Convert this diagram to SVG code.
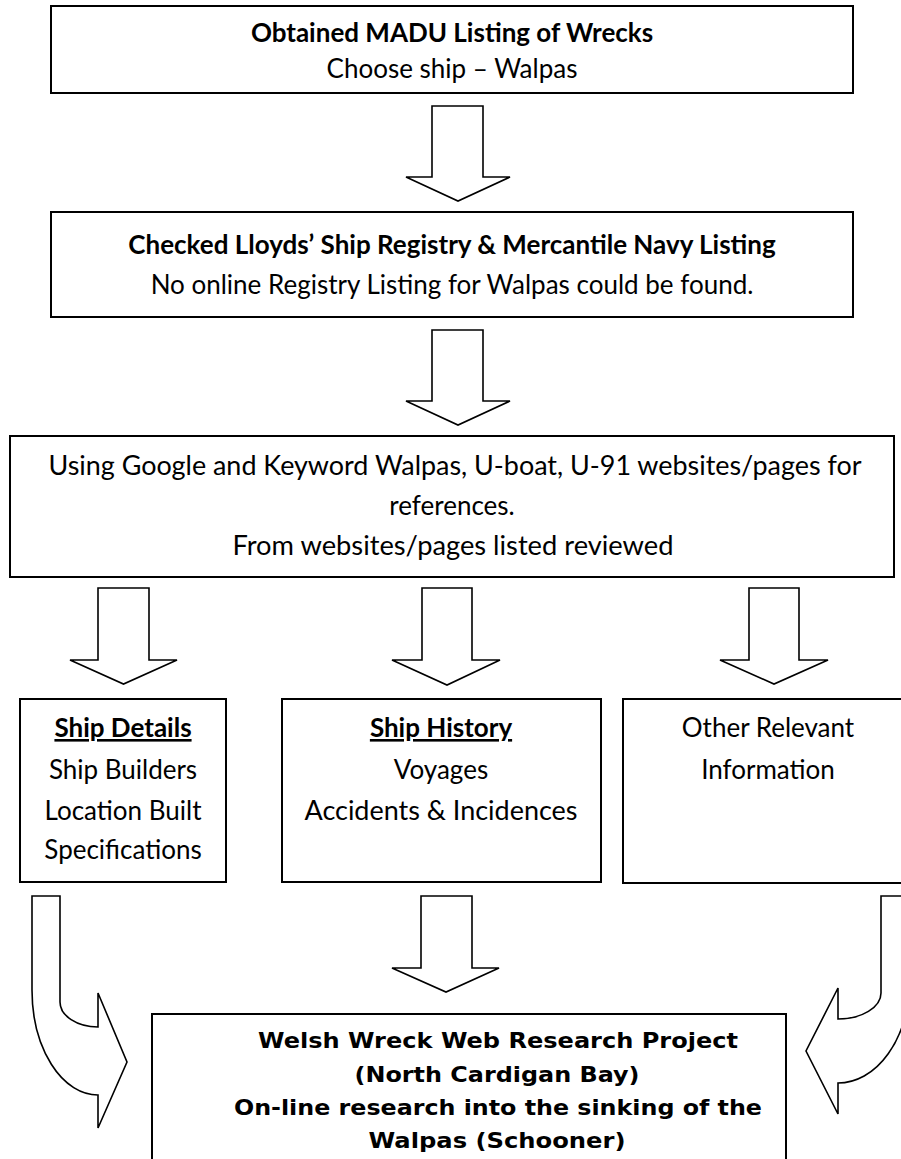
<svg xmlns="http://www.w3.org/2000/svg" width="901" height="1159" viewBox="0 0 901 1159">
<style>
.box{fill:#fff;stroke:#000;stroke-width:2}
.arr{fill:#fff;stroke:#000;stroke-width:1.6;stroke-linejoin:miter}
.t{font-family:Lato,"Liberation Sans",sans-serif;font-size:26px;fill:#000;text-anchor:middle}
.b{font-weight:bold}
.u{text-decoration:underline}
.v{font-family:"DejaVu Sans",Verdana,sans-serif;font-size:21px;font-weight:bold;fill:#000;text-anchor:middle}
</style>
<rect width="901" height="1159" fill="#fff"/>
<g id="connectors">
<polygon class="arr" points="432,106 483,106 483,177 510,177 458,201 406,177 432,177"/>
<polygon class="arr" points="432,330 483,330 483,401 510,401 458,425 406,401 432,401"/>
<polygon class="arr" points="98,588 149,588 149,660 177,660 123.5,684 70,660 98,660"/>
<polygon class="arr" points="422,588 472,588 472,660 500,660 447,685 392,660 422,660"/>
<polygon class="arr" points="749,588 799,588 799,660 828,660 774,684 720,660 749,660"/>
<polygon class="arr" points="421,896 472,896 472,968 499,968 446,992 392,968 421,968"/>
<path class="arr" d="M32,896 L60,896 L60,1002 A38,25 0 0 0 98,1027 L98,993 L127,1062 L98,1128 L98,1095 A66,105 0 0 1 32,990 Z"/>
<path class="arr" d="M881,896 L909,896 L909,983 A71,100 0 0 1 838,1083 L838,1114 L806,1051 L838,988 L838,1019 A43,26 0 0 0 881,993 Z"/>
</g>
<g id="n1">
<rect class="box" x="51" y="6" width="802" height="87"/>
<text class="t b" x="452" y="42">Obtained MADU Listing of Wrecks</text>
<text class="t" x="452" y="78">Choose ship – Walpas</text>
</g>
<g id="n2">
<rect class="box" x="51" y="212" width="802" height="105"/>
<text class="t b" x="452" y="254">Checked Lloyds’ Ship Registry &amp; Mercantile Navy Listing</text>
<text class="t" x="452" y="294">No online Registry Listing for Walpas could be found.</text>
</g>
<g id="n3">
<rect class="box" x="10" y="436" width="884" height="141"/>
<text class="t" x="455" y="475" textLength="813" lengthAdjust="spacingAndGlyphs">Using Google and Keyword Walpas, U-boat, U-91 websites/pages for</text>
<text class="t" x="452" y="515">references.</text>
<text class="t" x="453" y="555" textLength="441" lengthAdjust="spacingAndGlyphs">From websites/pages listed reviewed</text>
</g>
<g id="n4">
<rect class="box" x="20" y="699" width="206" height="183"/>
<text class="t b u" x="123" y="737">Ship Details</text>
<text class="t" x="123" y="779">Ship Builders</text>
<text class="t" x="123" y="820">Location Built</text>
<text class="t" x="123" y="859">Specifications</text>
</g>
<g id="n5">
<rect class="box" x="282" y="699" width="319" height="183"/>
<text class="t b u" x="441" y="737">Ship History</text>
<text class="t" x="441" y="779">Voyages</text>
<text class="t" x="441" y="820" textLength="273" lengthAdjust="spacingAndGlyphs">Accidents &amp; Incidences</text>
</g>
<g id="n6">
<rect class="box" x="623" y="699" width="290" height="184"/>
<text class="t" x="768" y="737">Other Relevant</text>
<text class="t" x="768" y="779">Information</text>
</g>
<g id="n7">
<rect class="box" x="152" y="1014" width="634" height="160"/>
<text class="v" x="498" y="1048" textLength="480" lengthAdjust="spacingAndGlyphs">Welsh Wreck Web Research Project</text>
<text class="v" x="497" y="1082" textLength="285" lengthAdjust="spacingAndGlyphs">(North Cardigan Bay)</text>
<text class="v" x="498" y="1115" textLength="528" lengthAdjust="spacingAndGlyphs">On-line research into the sinking of the</text>
<text class="v" x="497" y="1148" textLength="257" lengthAdjust="spacingAndGlyphs">Walpas (Schooner)</text>
</g>
</svg>
